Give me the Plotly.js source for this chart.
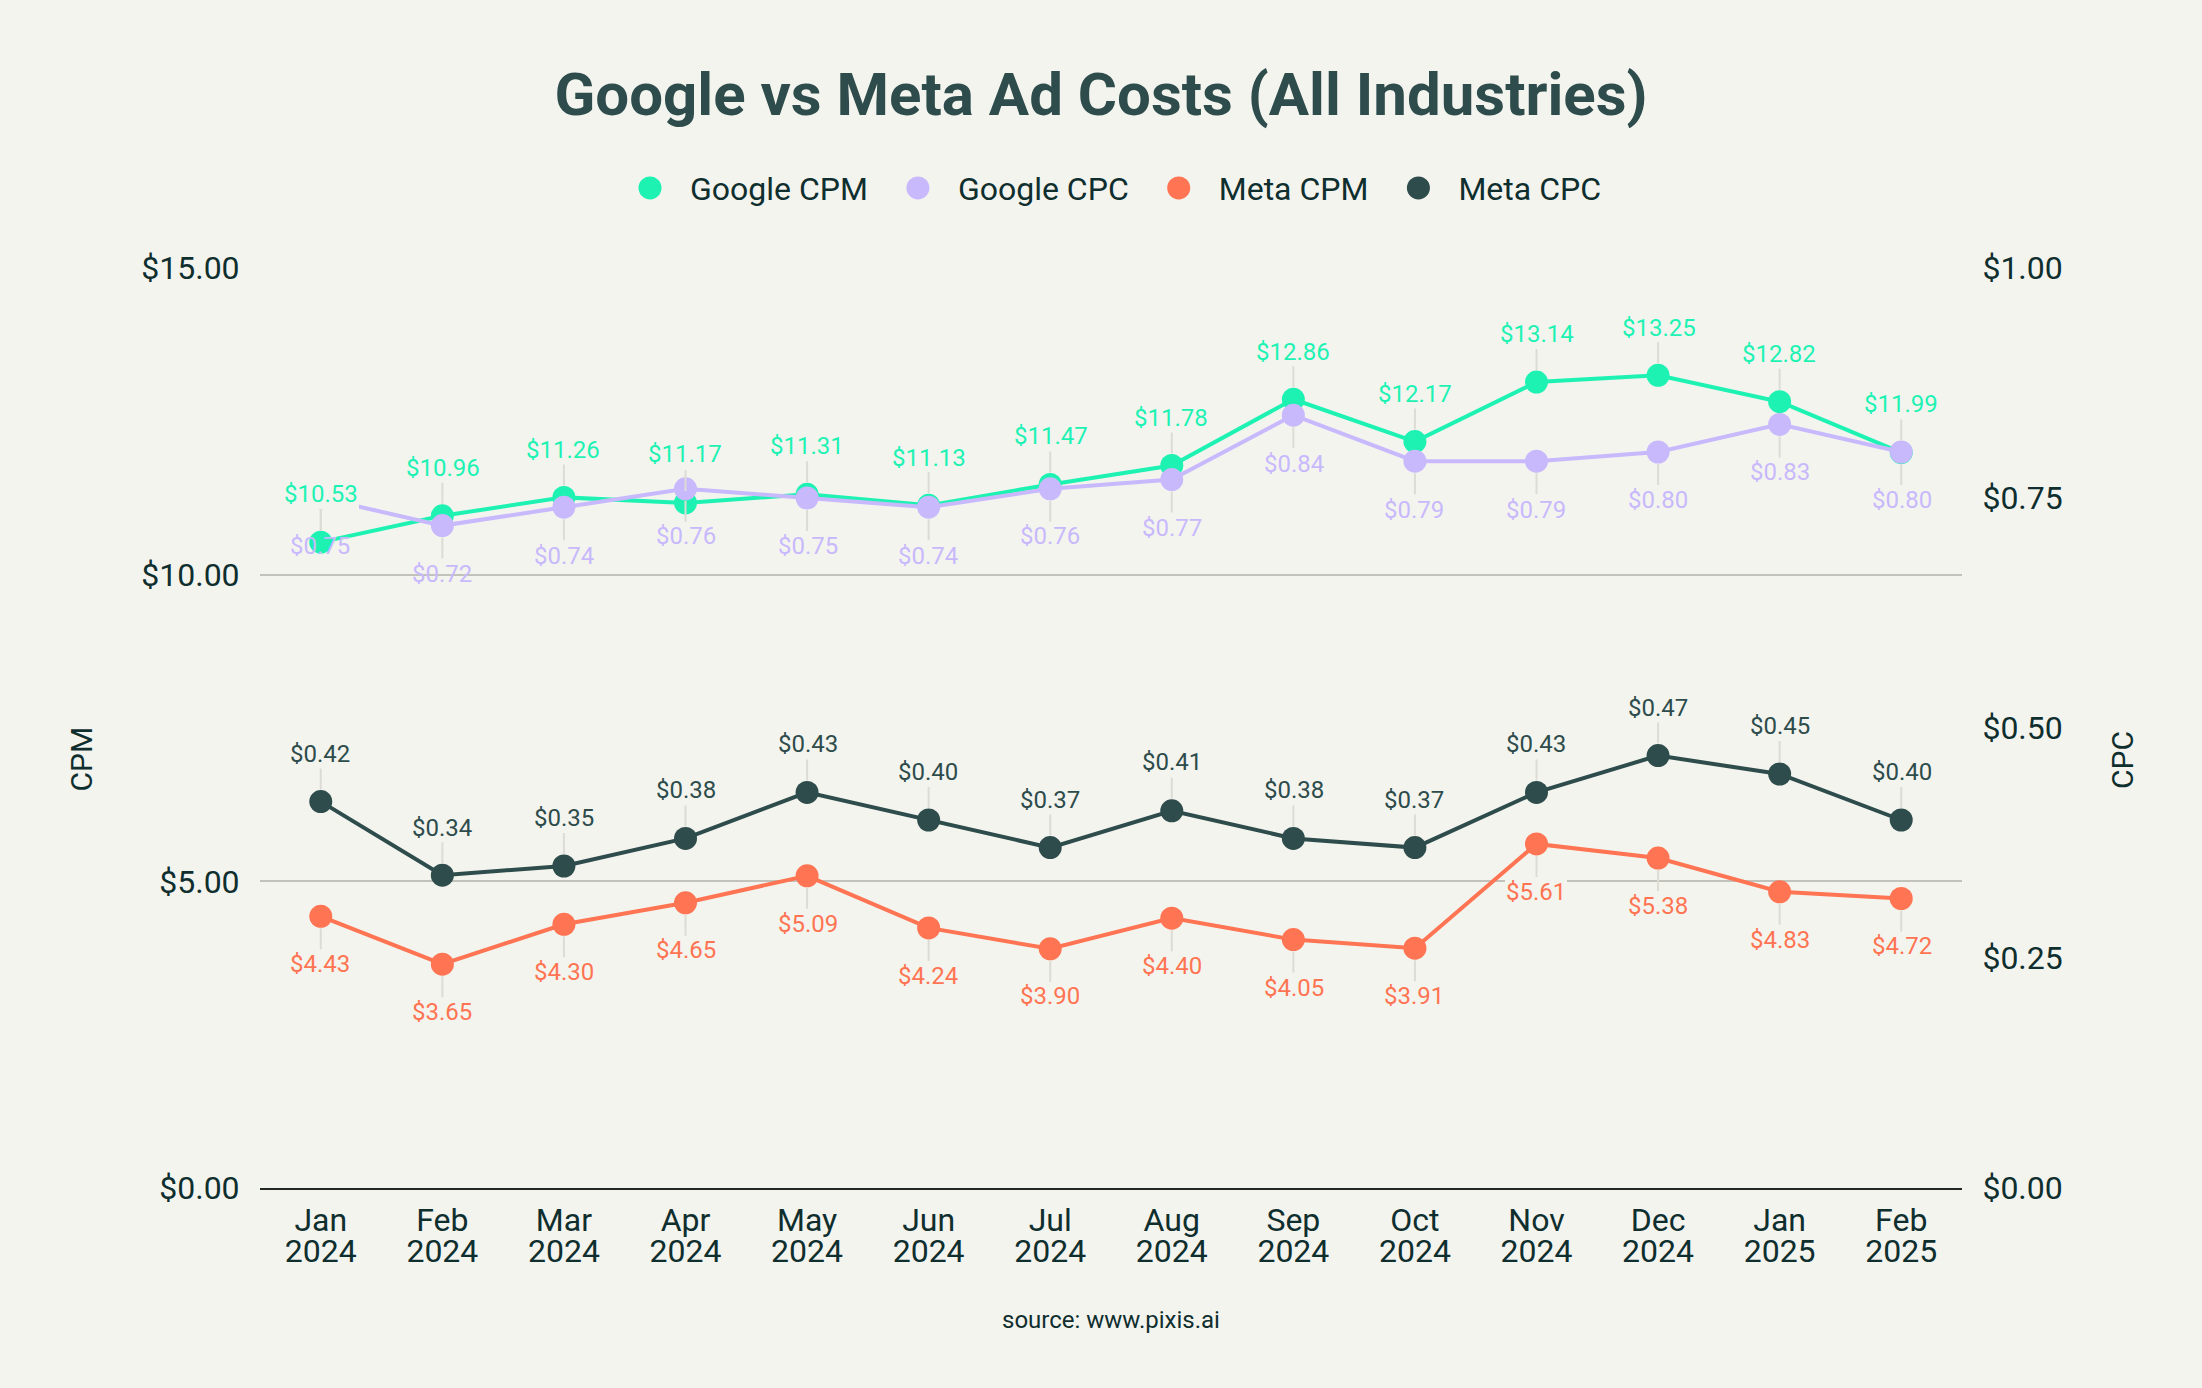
<!DOCTYPE html>
<html>
<head>
<meta charset="utf-8">
<script src="https://cdn.plot.ly/plotly-3.0.1.min.js"></script>
<style>
  html, body { margin: 0; padding: 0; background: #f4f4ef; overflow: hidden; }
  #wrap { width: 2202px; height: 1388px; overflow: hidden; }
  #chart { width: 1101px; height: 694px; transform: scale(2); transform-origin: 0 0; }
</style>
</head>
<body>
<div id="wrap"><div id="chart"></div></div>
<script>
// ---- data ----
const categories = ["Jan 2024", "Feb 2024", "Mar 2024", "Apr 2024", "May 2024", "Jun 2024",
  "Jul 2024", "Aug 2024", "Sep 2024", "Oct 2024", "Nov 2024", "Dec 2024", "Jan 2025", "Feb 2025"];
const monthLabels = ["Jan", "Feb", "Mar", "Apr", "May", "Jun", "Jul", "Aug", "Sep", "Oct", "Nov", "Dec", "Jan", "Feb"];
const yearLabels = ["2024", "2024", "2024", "2024", "2024", "2024", "2024", "2024", "2024", "2024", "2024", "2024", "2025", "2025"];
const googleCPM = [10.53, 10.96, 11.26, 11.17, 11.31, 11.13, 11.47, 11.78, 12.86, 12.17, 13.14, 13.25, 12.82, 11.99];
const googleCPC = [0.75, 0.72, 0.74, 0.76, 0.75, 0.74, 0.76, 0.77, 0.84, 0.79, 0.79, 0.80, 0.83, 0.80];
const metaCPM   = [4.43, 3.65, 4.30, 4.65, 5.09, 4.24, 3.90, 4.40, 4.05, 3.91, 5.61, 5.38, 4.83, 4.72];
const metaCPC   = [0.42, 0.34, 0.35, 0.38, 0.43, 0.40, 0.37, 0.41, 0.38, 0.37, 0.43, 0.47, 0.45, 0.40];
const cpmTicks = [0, 5, 10, 15];
const cpcTicks = [0, 0.25, 0.5, 0.75, 1];

const BG = "#f4f4ef";
const TXT = "#0f2e2e";
const C_GCPM = "#1ef2b3";
const C_GCPC = "#c8b9fc";
const C_MCPM = "#ff7452";
const C_MCPC = "#2d4c4b";
const FONT = "Roboto, 'Noto Sans', sans-serif";
const money = v => "$" + v.toFixed(2);
const idx = categories.map((c, i) => i);

const series = [
  {name: "Google CPM", y: googleCPM, color: C_GCPM, axis: "y",  above: true,  bg: BG},
  {name: "Google CPC", y: googleCPC, color: C_GCPC, axis: "y2", above: false, bg: "rgba(0,0,0,0)"},
  {name: "Meta CPM",   y: metaCPM,   color: C_MCPM, axis: "y",  above: false, bg: BG},
  {name: "Meta CPC",   y: metaCPC,   color: C_MCPC, axis: "y2", above: true,  bg: BG}
];

const traces = [];
const annotations = [];
series.forEach(s => {
  traces.push({
    type: "scatter", mode: "lines", x: categories, y: s.y, yaxis: s.axis,
    line: {color: s.color, width: 2}, showlegend: false, hoverinfo: "skip"
  });
  traces.push({
    type: "scatter", mode: "markers", x: categories, y: s.y, yaxis: s.axis, name: s.name,
    marker: {color: s.color, size: 11.5}, showlegend: true
  });
  s.y.forEach((v, i) => {
    annotations.push({
      x: categories[i], y: v, xref: "x", yref: s.axis,
      text: money(v),
      showarrow: true, arrowhead: 0, arrowwidth: 1, arrowcolor: "#dcdcd5",
      ax: 0, ay: s.above ? -24 : 24, standoff: 6,
      bgcolor: s.bg, borderpad: 0,
      font: {family: FONT, size: 12, color: s.color}
    });
  });
});

// empty helper trace so the second (year) tick axis is laid out
traces.push({
  type: "scatter", mode: "lines", x: idx, y: idx.map(() => null), xaxis: "x2", yaxis: "y",
  showlegend: false, hoverinfo: "skip", line: {width: 0}
});

// axis titles
annotations.push({
  text: "CPM", xref: "paper", yref: "paper", x: 0, y: 1 - (380 - 133.5) / 461,
  xshift: -89.2, xanchor: "center", yanchor: "middle", textangle: -90, showarrow: false,
  font: {family: FONT, size: 15, color: TXT}
});
annotations.push({
  text: "CPC", xref: "paper", yref: "paper", x: 1, y: 1 - (380 - 133.5) / 461,
  xshift: 80.5, xanchor: "center", yanchor: "middle", textangle: -90, showarrow: false,
  font: {family: FONT, size: 15, color: TXT}
});
annotations.push({
  text: "source: www.pixis.ai", xref: "paper", yref: "paper", x: 0.5, y: 0,
  yshift: -65.5, xanchor: "center", yanchor: "middle", showarrow: false,
  font: {family: FONT, size: 12, color: TXT}
});

const layout = {
  width: 1101, height: 694,
  paper_bgcolor: BG, plot_bgcolor: BG,
  font: {family: FONT, color: TXT},
  margin: {l: 130, r: 119.5, t: 133.5, b: 99.5},
  title: {
    text: "<b>Google vs Meta Ad Costs (All Industries)</b>",
    font: {family: FONT, size: 30, color: "#2d4c4b"},
    x: 0.5, xanchor: "center", y: 1 - 47 / 694, yanchor: "middle", yref: "container"
  },
  showlegend: true,
  legend: {
    orientation: "h", x: 0.5, xanchor: "center", y: 1 + 40 / 461, yanchor: "middle",
    font: {family: FONT, size: 16, color: TXT}, bgcolor: "rgba(0,0,0,0)"
  },
  xaxis: {
    type: "category", range: [-0.5, 13.5],
    tickvals: categories, ticktext: monthLabels,
    showgrid: false, showline: true, linecolor: "#222826", linewidth: 1.2,
    ticks: "outside", ticklen: 1, tickcolor: "rgba(0,0,0,0)",
    tickfont: {family: FONT, size: 16, color: TXT}, zeroline: false
  },
  xaxis2: {
    type: "linear", range: [-0.5, 13.5], overlaying: "x", side: "bottom", anchor: "y",
    tickvals: idx, ticktext: yearLabels,
    showgrid: false, showline: false, zeroline: false,
    ticks: "outside", ticklen: 17, tickcolor: "rgba(0,0,0,0)",
    tickfont: {family: FONT, size: 16, color: TXT}
  },
  yaxis: {
    range: [0, 15], tickvals: cpmTicks, ticktext: cpmTicks.map(money),
    showgrid: true, gridcolor: "#c2c2bb", gridwidth: 1, zeroline: false, showline: false,
    ticks: "outside", ticklen: 6, tickcolor: "rgba(0,0,0,0)",
    tickfont: {family: FONT, size: 16, color: TXT}
  },
  yaxis2: {
    range: [0, 1], tickvals: cpcTicks, ticktext: cpcTicks.map(money),
    overlaying: "y", side: "right", showgrid: false, zeroline: false, showline: false,
    ticks: "outside", ticklen: 6, tickcolor: "rgba(0,0,0,0)",
    tickfont: {family: FONT, size: 16, color: TXT}
  },
  annotations: annotations,
  hovermode: false
};

Plotly.newPlot("chart", traces, layout, {staticPlot: true, displayModeBar: false});
</script>
</body>
</html>
